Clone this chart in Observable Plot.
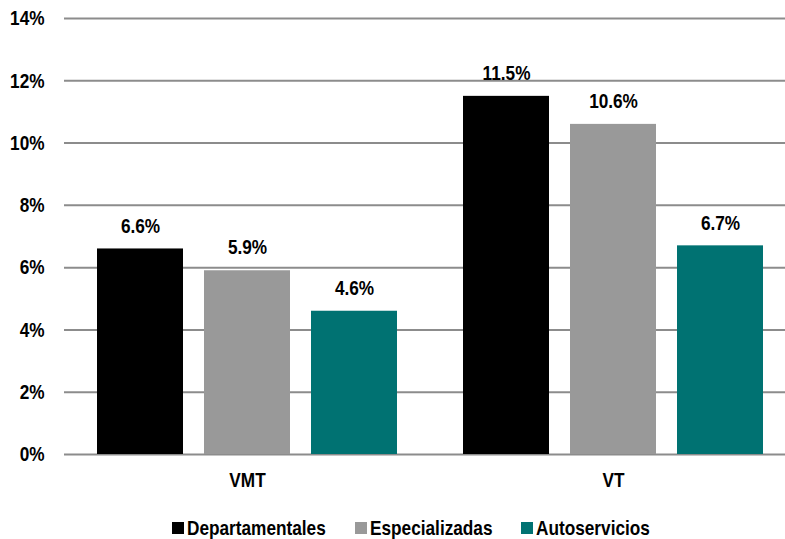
<!DOCTYPE html>
<html>
<head>
<meta charset="utf-8">
<script src="https://cdn.jsdelivr.net/npm/d3@7"></script>
<script src="https://cdn.jsdelivr.net/npm/@observablehq/plot@0.6"></script>
<style>
  html, body { margin: 0; padding: 0; background: #fff; overflow: hidden; }
  #wrap { width: 785px; overflow: hidden; }
  #chart svg { max-width: none !important; display: block; }
  .ff { font-family: "Liberation Sans", Arial, sans-serif; font-weight: bold; }
  #legend { display: flex; align-items: center; margin-left: 172px; margin-top: 11px; font-size: 21px; line-height: 24px; color: #000; white-space: nowrap; }
  #legend .item { display: flex; align-items: center; margin-right: 29px; }
  #legend .sw { width: 12px; height: 12px; margin-right: 3px; flex: none; }
  #legend .tx { display: inline-block; transform: scaleX(0.82); transform-origin: 0 50%; }
</style>
</head>
<body>
<div id="wrap" class="ff">
  <div id="chart"></div>
  <div id="legend"></div>
</div>
<script>
const groups = ["VMT", "VT"];
const series = ["Departamentales", "Especializadas", "Autoservicios"];
const vmtValues = [6.6, 5.9, 4.6];
const vtValues = [11.5, 10.6, 6.7];
const colors = ["#000000", "#999999", "#007272"];
const yTicks = [0, 2, 4, 6, 8, 10, 12, 14];

const valuesByGroup = {VMT: vmtValues, VT: vtValues};
const data = [];
for (const g of groups) {
  series.forEach((s, i) => data.push({group: g, series: s, value: valuesByGroup[g][i]}));
}

const font = '"Liberation Sans", Arial, sans-serif';
const NARROW = 0.82;

const chart = Plot.plot({
  width: 796,
  height: 505,
  marginLeft: 63,
  marginRight: 0,
  marginTop: 18,
  marginBottom: 51,
  style: {fontFamily: font, fontSize: "21px", fontWeight: "bold", color: "#000", background: "#fff", maxWidth: "none"},
  facet: {data: data, x: "group", marginRight: 0, marginLeft: 0},
  fx: {domain: groups, padding: 0, tickSize: 0, tickPadding: 18, label: null, axis: "bottom"},
  x: {domain: series, axis: null, paddingInner: 0.2, paddingOuter: 0.3},
  y: {domain: [0, 14], ticks: yTicks, tickFormat: d => d + "%", tickSize: 0, tickPadding: 20, label: null},
  color: {domain: series, range: colors},
  marks: [
    Plot.ruleY(yTicks, {stroke: "#8c8c8c", strokeWidth: 2, strokeOpacity: 1}),
    Plot.barY(data, {x: "series", y: "value", fill: "series"}),
    Plot.text(data, {x: "series", y: "value", text: d => d.value.toFixed(1) + "%", dy: -23, fontSize: 21, fontWeight: "bold", fill: "#000"})
  ]
});
document.getElementById("chart").appendChild(chart);

// emulate a narrow (condensed) bold face by squeezing each text horizontally about its anchor
chart.querySelectorAll("text").forEach(t => {
  const bb = t.getBBox();
  const anchor = getComputedStyle(t).textAnchor;
  const ax = anchor === "middle" ? bb.x + bb.width / 2 : anchor === "end" ? bb.x + bb.width : bb.x;
  if (!isFinite(ax)) return;
  const prev = t.getAttribute("transform") || "";
  t.setAttribute("transform", `${prev} translate(${ax},0) scale(${NARROW},1) translate(${-ax},0)`);
});

const legend = document.getElementById("legend");
series.forEach((s, i) => {
  const item = document.createElement("div");
  item.className = "item";
  const sw = document.createElement("div");
  sw.className = "sw";
  sw.style.background = colors[i];
  const t = document.createElement("span");
  t.className = "tx";
  t.textContent = s;
  item.appendChild(sw);
  item.appendChild(t);
  legend.appendChild(item);
  const w = t.offsetWidth;
  t.style.marginRight = (-(1 - NARROW) * w) + "px";
});
</script>
</body>
</html>
